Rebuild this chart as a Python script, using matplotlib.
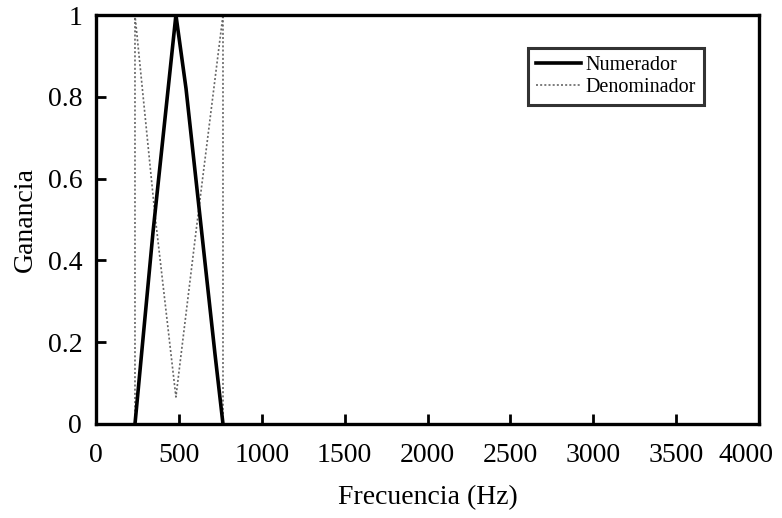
import matplotlib.pyplot as plt
from matplotlib.transforms import ScaledTranslation

plt.rcParams['font.family'] = ['Liberation Serif', 'DejaVu Serif']

# filtro triangular (numerador) y su complemento (denominador)
num_freq = [235, 344, 482, 543, 718, 766]
num_gain = [0.0, 0.47, 1.0, 0.82, 0.17, 0.0]

den_freq = [235, 235, 356, 482, 603, 766, 766]
den_gain = [0.0, 1.0, 0.51, 0.066, 0.47, 1.0, 0.0]

xticks = [0, 500, 1000, 1500, 2000, 2500, 3000, 3500, 4000]
yticks = [0, 0.2, 0.4, 0.6, 0.8, 1]
ytick_labels = ['0', '0.2', '0.4', '0.6', '0.8', '1']

fig = plt.figure(figsize=(7.82, 5.18), dpi=100)
ax = fig.add_axes([0.1228, 0.1815, 0.8478, 0.7895])

ax.plot(num_freq, num_gain, color='black', lw=2.6, label='Numerador',
        solid_joinstyle='miter', clip_on=False, zorder=3)
ax.plot(den_freq, den_gain, color='0.4', lw=1.2, linestyle=(0, (1.2, 1.3)),
        label='Denominador', clip_on=False, zorder=2)

ax.set_xlim(0, 4000)
ax.set_ylim(0, 1)
ax.set_xticks(xticks)
ax.set_yticks(yticks)
ax.set_yticklabels(ytick_labels)
ax.tick_params(direction='in', length=7, width=2, labelsize=20,
               top=False, right=False)
ax.tick_params(axis='x', pad=14)
ax.tick_params(axis='y', pad=10)
for s in ax.spines.values():
    s.set_linewidth(2.4)

# la última etiqueta se corre un poco para que quepa en la figura
last = ax.get_xticklabels()[-1]
last.set_transform(last.get_transform() + ScaledTranslation(-0.13, 0, fig.dpi_scale_trans))

ax.set_xlabel('Frecuencia (Hz)', fontsize=20, labelpad=12)
ax.set_ylabel('Ganancia', fontsize=20, labelpad=7)

leg = ax.legend(loc='upper left', bbox_to_anchor=(0.652, 0.919), fontsize=14.5,
                frameon=True, fancybox=False, edgecolor='black',
                handlelength=2.2, handletextpad=0.25, borderpad=0.4,
                labelspacing=0.15, borderaxespad=0)
leg.get_frame().set_linewidth(2.2)

fig.savefig('out.png', dpi=100)
